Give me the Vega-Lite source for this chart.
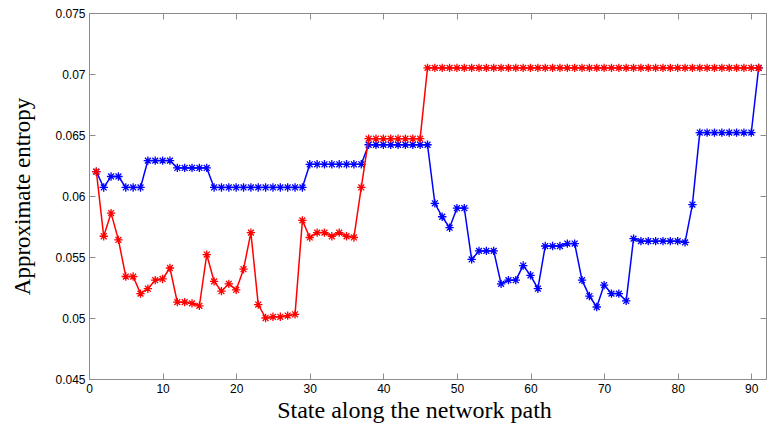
{
  "$schema": "https://vega.github.io/schema/vega-lite/v6.json",
  "autosize": "none",
  "width": 677,
  "height": 366,
  "padding": {"left": 89, "top": 13, "right": 6, "bottom": 52},
  "background": "white",
  "config": {
    "view": {"stroke": null},
    "axis": {
      "domainColor": "#8c8c8c",
      "tickColor": "#8c8c8c",
      "grid": false,
      "labelFont": "Liberation Sans",
      "labelFontSize": 12,
      "labelColor": "black",
      "titleFont": "Liberation Serif",
      "titleFontSize": 23,
      "titleFontWeight": "normal",
      "titleColor": "black",
      "tickSize": -6,
      "labelPadding": 10
    }
  },
  "datasets": {
    "red": [
      {"x":1,"v":0.0620},{"x":2,"v":0.0567},{"x":3,"v":0.0586},{"x":4,"v":0.0564},{"x":5,"v":0.0534},
      {"x":6,"v":0.0534},{"x":7,"v":0.0520},{"x":8,"v":0.0524},{"x":9,"v":0.0531},{"x":10,"v":0.0532},
      {"x":11,"v":0.0541},{"x":12,"v":0.0513},{"x":13,"v":0.0513},{"x":14,"v":0.0512},{"x":15,"v":0.0510},
      {"x":16,"v":0.0552},{"x":17,"v":0.0530},{"x":18,"v":0.0522},{"x":19,"v":0.0528},{"x":20,"v":0.0523},
      {"x":21,"v":0.0540},{"x":22,"v":0.0570},{"x":23,"v":0.0511},{"x":24,"v":0.0500},{"x":25,"v":0.0501},
      {"x":26,"v":0.0501},{"x":27,"v":0.0502},{"x":28,"v":0.0503},{"x":29,"v":0.0580},{"x":30,"v":0.0566},
      {"x":31,"v":0.0570},{"x":32,"v":0.0570},{"x":33,"v":0.0567},{"x":34,"v":0.0570},{"x":35,"v":0.0567},
      {"x":36,"v":0.0566},{"x":37,"v":0.0607},{"x":38,"v":0.0647},{"x":39,"v":0.0647},{"x":40,"v":0.0647},
      {"x":41,"v":0.0647},{"x":42,"v":0.0647},{"x":43,"v":0.0647},{"x":44,"v":0.0647},{"x":45,"v":0.0647},
      {"x":46,"v":0.0705},{"x":47,"v":0.0705},{"x":48,"v":0.0705},{"x":49,"v":0.0705},{"x":50,"v":0.0705},
      {"x":51,"v":0.0705},{"x":52,"v":0.0705},{"x":53,"v":0.0705},{"x":54,"v":0.0705},{"x":55,"v":0.0705},
      {"x":56,"v":0.0705},{"x":57,"v":0.0705},{"x":58,"v":0.0705},{"x":59,"v":0.0705},{"x":60,"v":0.0705},
      {"x":61,"v":0.0705},{"x":62,"v":0.0705},{"x":63,"v":0.0705},{"x":64,"v":0.0705},{"x":65,"v":0.0705},
      {"x":66,"v":0.0705},{"x":67,"v":0.0705},{"x":68,"v":0.0705},{"x":69,"v":0.0705},{"x":70,"v":0.0705},
      {"x":71,"v":0.0705},{"x":72,"v":0.0705},{"x":73,"v":0.0705},{"x":74,"v":0.0705},{"x":75,"v":0.0705},
      {"x":76,"v":0.0705},{"x":77,"v":0.0705},{"x":78,"v":0.0705},{"x":79,"v":0.0705},{"x":80,"v":0.0705},
      {"x":81,"v":0.0705},{"x":82,"v":0.0705},{"x":83,"v":0.0705},{"x":84,"v":0.0705},{"x":85,"v":0.0705},
      {"x":86,"v":0.0705},{"x":87,"v":0.0705},{"x":88,"v":0.0705},{"x":89,"v":0.0705},{"x":90,"v":0.0705},
      {"x":91,"v":0.0705}
    ],
    "blue": [
      {"x":1,"v":0.0620},{"x":2,"v":0.0607},{"x":3,"v":0.0616},{"x":4,"v":0.0616},{"x":5,"v":0.0607},
      {"x":6,"v":0.0607},{"x":7,"v":0.0607},{"x":8,"v":0.0629},{"x":9,"v":0.0629},{"x":10,"v":0.0629},
      {"x":11,"v":0.0629},{"x":12,"v":0.0623},{"x":13,"v":0.0623},{"x":14,"v":0.0623},{"x":15,"v":0.0623},
      {"x":16,"v":0.0623},{"x":17,"v":0.0607},{"x":18,"v":0.0607},{"x":19,"v":0.0607},{"x":20,"v":0.0607},
      {"x":21,"v":0.0607},{"x":22,"v":0.0607},{"x":23,"v":0.0607},{"x":24,"v":0.0607},{"x":25,"v":0.0607},
      {"x":26,"v":0.0607},{"x":27,"v":0.0607},{"x":28,"v":0.0607},{"x":29,"v":0.0607},{"x":30,"v":0.0626},
      {"x":31,"v":0.0626},{"x":32,"v":0.0626},{"x":33,"v":0.0626},{"x":34,"v":0.0626},{"x":35,"v":0.0626},
      {"x":36,"v":0.0626},{"x":37,"v":0.0626},{"x":38,"v":0.0642},{"x":39,"v":0.0642},{"x":40,"v":0.0642},
      {"x":41,"v":0.0642},{"x":42,"v":0.0642},{"x":43,"v":0.0642},{"x":44,"v":0.0642},{"x":45,"v":0.0642},
      {"x":46,"v":0.0642},{"x":47,"v":0.0594},{"x":48,"v":0.0583},{"x":49,"v":0.0574},{"x":50,"v":0.0590},
      {"x":51,"v":0.0590},{"x":52,"v":0.0548},{"x":53,"v":0.0555},{"x":54,"v":0.0555},{"x":55,"v":0.0555},
      {"x":56,"v":0.0528},{"x":57,"v":0.0531},{"x":58,"v":0.0531},{"x":59,"v":0.0543},{"x":60,"v":0.0535},
      {"x":61,"v":0.0524},{"x":62,"v":0.0559},{"x":63,"v":0.0559},{"x":64,"v":0.0559},{"x":65,"v":0.0561},
      {"x":66,"v":0.0561},{"x":67,"v":0.0531},{"x":68,"v":0.0518},{"x":69,"v":0.0509},{"x":70,"v":0.0527},
      {"x":71,"v":0.0520},{"x":72,"v":0.0520},{"x":73,"v":0.0514},{"x":74,"v":0.0565},{"x":75,"v":0.0563},
      {"x":76,"v":0.0563},{"x":77,"v":0.0563},{"x":78,"v":0.0563},{"x":79,"v":0.0563},{"x":80,"v":0.0563},
      {"x":81,"v":0.0562},{"x":82,"v":0.0593},{"x":83,"v":0.0652},{"x":84,"v":0.0652},{"x":85,"v":0.0652},
      {"x":86,"v":0.0652},{"x":87,"v":0.0652},{"x":88,"v":0.0652},{"x":89,"v":0.0652},{"x":90,"v":0.0652},
      {"x":91,"v":0.0705}
    ]
  },
  "resolve": {"axis": {"x": "independent", "y": "independent"}},
  "layer": [
    {
      "data": {"name": "blue"},
      "mark": {"type": "line", "color": "#0000ff", "strokeWidth": 1.5},
      "encoding": {
        "x": {"field": "x", "type": "quantitative", "scale": {"domain": [0, 92], "nice": false, "zero": false},
              "axis": {"values": [0,10,20,30,40,50,60,70,80,90], "title": "State along the network path", "titleX": 325, "titleFontSize": 24, "titlePadding": 4, "labelFlush": false}},
        "y": {"field": "v", "type": "quantitative", "scale": {"domain": [0.045, 0.075], "nice": false, "zero": false},
              "axis": {"values": [0.045,0.05,0.055,0.06,0.065,0.07,0.075], "format": "~g", "title": "Approximate entropy", "titleFontSize": 23, "titlePadding": 20, "labelFlush": false}}
      }
    },
    {
      "data": {"name": "blue"},
      "mark": {"type": "point", "shape": "M-1,0L1,0M0,-1L0,1M-0.7,-0.7L0.7,0.7M-0.7,0.7L0.7,-0.7", "filled": false, "color": "#0000ff", "size": 70, "strokeWidth": 1.3, "opacity": 1},
      "encoding": {
        "x": {"field": "x", "type": "quantitative", "axis": {"orient": "top", "values": [0,10,20,30,40,50,60,70,80,90], "labels": false, "title": null}},
        "y": {"field": "v", "type": "quantitative", "axis": {"orient": "right", "values": [0.045,0.05,0.055,0.06,0.065,0.07,0.075], "labels": false, "title": null}}
      }
    },
    {
      "data": {"name": "red"},
      "mark": {"type": "line", "color": "#ff0000", "strokeWidth": 1.5},
      "encoding": {
        "x": {"field": "x", "type": "quantitative", "axis": null},
        "y": {"field": "v", "type": "quantitative", "axis": null}
      }
    },
    {
      "data": {"name": "red"},
      "mark": {"type": "point", "shape": "M-1,0L1,0M0,-1L0,1M-0.7,-0.7L0.7,0.7M-0.7,0.7L0.7,-0.7", "filled": false, "color": "#ff0000", "size": 70, "strokeWidth": 1.3, "opacity": 1},
      "encoding": {
        "x": {"field": "x", "type": "quantitative", "axis": null},
        "y": {"field": "v", "type": "quantitative", "axis": null}
      }
    }
  ]
}
